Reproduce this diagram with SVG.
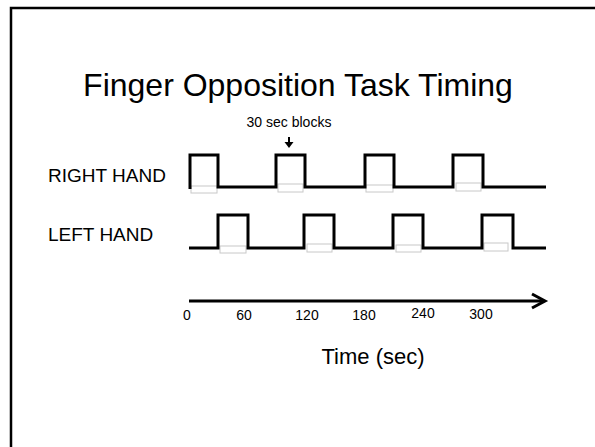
<svg xmlns="http://www.w3.org/2000/svg" width="595" height="447" viewBox="0 0 595 447">
<style>
text{font-family:"Liberation Sans",Arial,sans-serif;fill:#000}
.sig{fill:none;stroke:#000;stroke-width:3;stroke-linejoin:miter}
.blk{fill:#fff;stroke:#c8c8c8;stroke-width:1}
.tick{font-size:14px;text-anchor:middle}
</style>
<rect x="0" y="0" width="595" height="447" fill="#fff"/>
<rect x="11" y="8" width="600" height="460" fill="none" stroke="#000" stroke-width="2.5"/>
<g id="title"><text x="298" y="96" font-size="32" text-anchor="middle">Finger Opposition Task Timing</text></g>
<g id="labels">
<text x="48" y="182" font-size="19">RIGHT HAND</text>
<text x="48" y="241" font-size="19">LEFT HAND</text>
<text x="289" y="127" font-size="14" text-anchor="middle">30 sec blocks</text>
</g>
<g id="blocks">
<rect class="blk" x="191" y="186" width="26" height="7"/>
<rect class="blk" x="278" y="184" width="25" height="8"/>
<rect class="blk" x="366" y="185" width="27" height="7"/>
<rect class="blk" x="456" y="183" width="25" height="8"/>
<rect class="blk" x="220" y="246" width="26" height="7"/>
<rect class="blk" x="307" y="244" width="25" height="8"/>
<rect class="blk" x="396" y="245" width="25" height="7"/>
<rect class="blk" x="484" y="243" width="24" height="8"/>
</g>
<g id="right-hand"><path class="sig" d="M190,189 V155 H218 V187 H276 V155 H305 V187 H365 V155 H394 V187 H453 V155 H483 V187 H546"/></g>
<g id="left-hand"><path class="sig" d="M189,248 H218 V215 H248 V248 H304 V215 H334 V248 H393 V215 H423 V248 H482 V215 H513 V248 H546"/></g>
<g id="connectors">
<line x1="289" y1="137" x2="289" y2="143" stroke="#000" stroke-width="2"/>
<polygon points="284.5,142 293.5,142 289,148" fill="#000"/>
<line x1="189" y1="301" x2="543" y2="301" stroke="#000" stroke-width="3"/>
<polyline points="532,294 545,301 532,308" fill="none" stroke="#000" stroke-width="3"/>
</g>
<g id="axis-labels">
<text class="tick" x="187" y="320">0</text>
<text class="tick" x="244" y="320">60</text>
<text class="tick" x="307" y="320">120</text>
<text class="tick" x="364" y="320">180</text>
<text class="tick" x="423" y="318">240</text>
<text class="tick" x="481" y="319">300</text>
<text x="373" y="364" text-anchor="middle" font-size="22">Time (sec)</text>
</g>
</svg>
